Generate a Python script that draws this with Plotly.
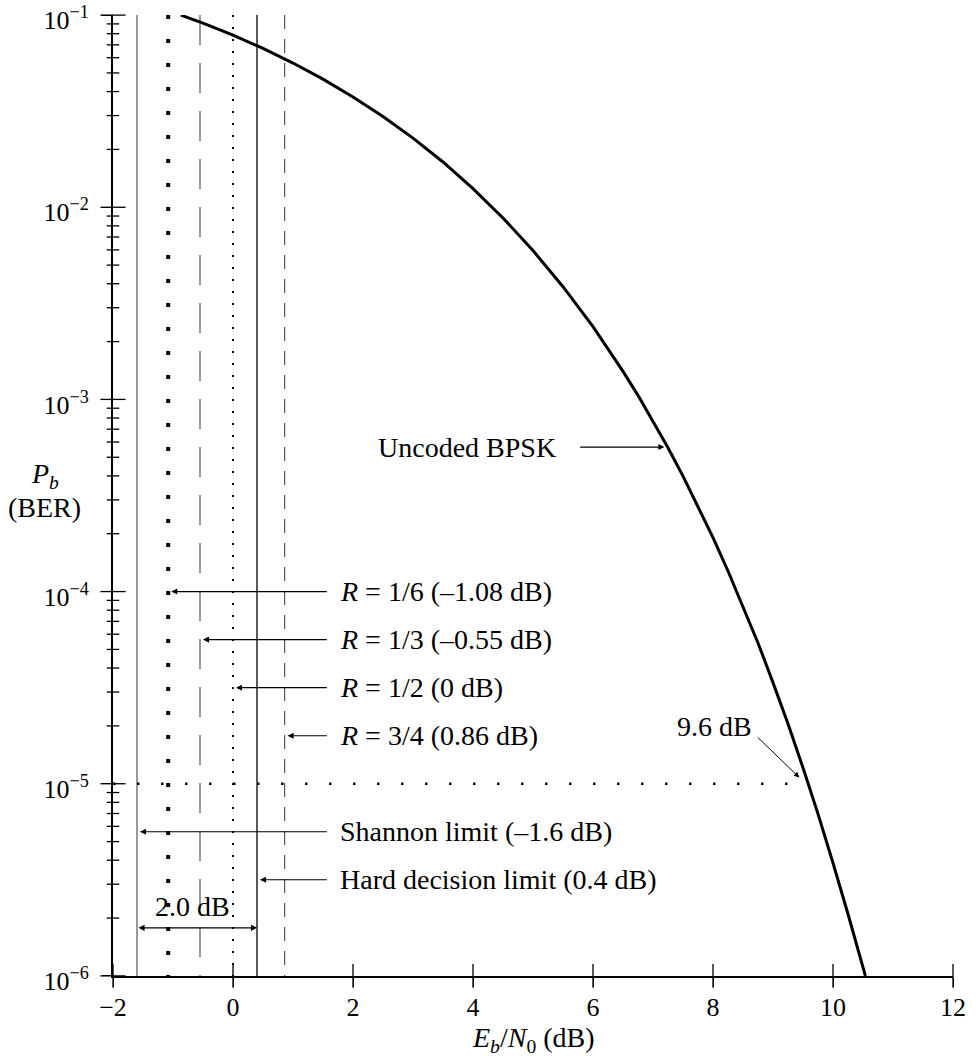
import plotly.graph_objects as go

# ---------------- data ----------------
ebn0_db = [-0.87, -0.5, 0, 0.5, 1, 1.5, 2, 2.5, 3, 3.5, 4, 4.5, 5, 5.5, 6, 6.5, 6.75, 7,
           7.25, 7.5, 7.75, 8, 8.25, 8.5, 8.75, 9, 9.25, 9.5, 9.75, 10, 10.25, 10.54]
ber_uncoded = [0.1, 0.0909, 0.0786, 0.0671, 0.0563, 0.0464, 0.0375, 0.0297, 0.0229, 0.0172,
               0.0125, 0.0088, 0.00595, 0.00386, 0.00239, 0.0014, 0.00105, 0.000773,
               0.00056, 0.000399, 0.000278, 0.000191, 0.000128, 0.000084, 0.000054,
               0.0000336, 0.0000205, 0.0000121, 0.00000697, 0.00000387, 0.0000021, 0.000001]

limit_names = ["Shannon limit (–1.6 dB)", "<i>R</i> = 1/6 (–1.08 dB)", "<i>R</i> = 1/3 (–0.55 dB)",
               "<i>R</i> = 1/2 (0 dB)", "Hard decision limit (0.4 dB)", "<i>R</i> = 3/4 (0.86 dB)"]
limit_db = [-1.6, -1.08, -0.55, 0.0, 0.4, 0.86]
limit_label_level = [-5.25, -4.0, -4.25, -4.5, -5.5, -4.75]   # log10(Pb) of each label row

target_ber = 1e-5
target_db = 9.6

x_ticks = [-2, 0, 2, 4, 6, 8, 10, 12]
x_ticktext = ["−2", "0", "2", "4", "6", "8", "10", "12"]
y_ticks = [1e-6, 1e-5, 1e-4, 1e-3, 1e-2, 1e-1]
y_ticktext = ["10<sup>−6</sup>", "10<sup>−5</sup>", "10<sup>−4</sup>",
              "10<sup>−3</sup>", "10<sup>−2</sup>", "10<sup>−1</sup>"]
y_minor = [k * 10.0 ** e for e in range(-6, -1) for k in range(2, 10)]

X_RANGE = [-2, 12]
Y_RANGE = [1e-6, 1e-1]
Y_LOG_RANGE = [-6.0005, -0.9995]

# ---------------- styles ----------------
FONT = "Liberation Serif, Times New Roman, serif"
FS = 28
TICK_FS = 26
line_styles = [
    dict(color="#444444", width=1.1, dash="solid"),     # Shannon
    dict(color="black", width=4, dash="4px,20px"),       # R=1/6
    dict(color="#444444", width=1.1, dash="30px,18px"),  # R=1/3
    dict(color="black", width=2, dash="2px,10px"),       # R=1/2
    dict(color="black", width=1.3, dash="solid"),       # hard decision
    dict(color="#555555", width=1.2, dash="14px,10px"),  # R=3/4
]

fig = go.Figure()

for v, st in zip(limit_db, line_styles):
    fig.add_trace(go.Scatter(x=[v, v], y=[Y_RANGE[1], Y_RANGE[0]], mode="lines",
                             line=st, hoverinfo="skip", showlegend=False))

fig.add_trace(go.Scatter(x=[X_RANGE[0], target_db], y=[target_ber, target_ber], mode="lines",
                         line=dict(color="black", width=2.5, dash="2.5px,21.5px"),
                         hoverinfo="skip", showlegend=False))

fig.add_trace(go.Scatter(x=ebn0_db, y=ber_uncoded, mode="lines",
                         line=dict(color="black", width=3), showlegend=False))

# crossing tick marks (inside part of the axis ticks), drawn as line markers on the axes
fig.add_trace(go.Scatter(x=[X_RANGE[0]] * len(y_minor), y=y_minor, mode="markers",
                         marker=dict(symbol="line-ew", size=9, line=dict(width=1.3, color="black")),
                         cliponaxis=False, hoverinfo="skip", showlegend=False))
fig.add_trace(go.Scatter(x=[X_RANGE[0]] * len(y_ticks), y=y_ticks, mode="markers",
                         marker=dict(symbol="line-ew", size=18, line=dict(width=1.3, color="black")),
                         cliponaxis=False, hoverinfo="skip", showlegend=False))
fig.add_trace(go.Scatter(x=x_ticks, y=[Y_RANGE[0]] * len(x_ticks), mode="markers",
                         marker=dict(symbol="line-ns", size=17, line=dict(width=1.3, color="black")),
                         cliponaxis=False, hoverinfo="skip", showlegend=False))

anns = []
label_x_tail = 1.59
label_x_text = 1.75
txtfont = dict(family=FONT, size=FS, color="black")
for name, v, lvl in zip(limit_names, limit_db, limit_label_level):
    anns.append(dict(x=v + 0.05, y=lvl, ax=label_x_tail, ay=lvl, xref="x", yref="y",
                     axref="x", ayref="y", text="", showarrow=True, arrowhead=2,
                     arrowsize=1.1, arrowwidth=1.1, arrowcolor="black", standoff=0))
    anns.append(dict(x=label_x_text, y=lvl, xref="x", yref="y", text=name, showarrow=False,
                     xanchor="left", yanchor="middle", font=txtfont))

# Uncoded BPSK
anns.append(dict(x=7.19, y=-3.248, ax=5.76, ay=-3.248, xref="x", yref="y", axref="x", ayref="y",
                 text="", showarrow=True, arrowhead=2, arrowsize=1.1, arrowwidth=1.1,
                 arrowcolor="black", standoff=0))
anns.append(dict(x=5.42, y=-3.248, xref="x", yref="y", text="Uncoded BPSK", showarrow=False,
                 xanchor="right", yanchor="middle", font=txtfont))

# 2.0 dB gap
anns.append(dict(x=limit_db[4], y=-5.75, ax=limit_db[0], ay=-5.75, xref="x", yref="y",
                 axref="x", ayref="y", text="", showarrow=True, arrowhead=2, startarrowhead=2,
                 arrowside="end+start", arrowsize=1.1, arrowwidth=1.1, arrowcolor="black",
                 standoff=0, startstandoff=0))
anns.append(dict(x=-0.67, y=-5.64, xref="x", yref="y", text="2.0 dB", showarrow=False,
                 xanchor="center", yanchor="middle", font=txtfont))

# 9.6 dB
anns.append(dict(x=9.44, y=-4.968, ax=8.72, ay=-4.751, xref="x", yref="y", axref="x", ayref="y",
                 text="", showarrow=True, arrowhead=2, arrowsize=1.1, arrowwidth=1.0,
                 arrowcolor="black", standoff=0))
anns.append(dict(x=8.03, y=-4.704, xref="x", yref="y", text="9.6 dB", showarrow=False,
                 xanchor="center", yanchor="middle", font=txtfont))

# axis titles
anns.append(dict(x=-0.081, y=0.521, xref="paper", yref="paper", text="<i>P<sub>b</sub></i>",
                 showarrow=False, xanchor="center", yanchor="middle", font=txtfont))
anns.append(dict(x=-0.081, y=0.488, xref="paper", yref="paper", text="(BER)",
                 showarrow=False, xanchor="center", yanchor="middle", font=txtfont))
anns.append(dict(x=0.5, y=-0.066, xref="paper", yref="paper",
                 text="<i>E<sub>b</sub></i>/<i>N</i><sub>0</sub> (dB)",
                 showarrow=False, xanchor="center", yanchor="middle", font=txtfont))

axis_common = dict(showgrid=False, zeroline=False, tickcolor="black", tickwidth=1.3,
                   automargin=False, ticklabeloverflow="allow")

fig.update_layout(
    width=979, height=1056,
    margin=dict(l=113, r=26, t=15, b=80, pad=0),
    paper_bgcolor="white", plot_bgcolor="white",
    font=dict(family=FONT, size=FS, color="black"),
    showlegend=False,
    annotations=anns,
    xaxis=dict(range=X_RANGE, tickvals=x_ticks, ticktext=x_ticktext, ticks="outside", ticklen=9,
               showline=True, linecolor="black", linewidth=2, ticklabelstandoff=-2,
               tickfont=dict(family=FONT, size=TICK_FS, color="black"), **axis_common),
    yaxis=dict(type="log", range=Y_LOG_RANGE, tickvals=y_ticks, ticktext=y_ticktext,
               ticks="outside", ticklen=9, showline=True, linecolor="black", linewidth=2,
               ticklabelstandoff=8, ticklabelshift=5,
               tickfont=dict(family=FONT, size=TICK_FS, color="black"),
               **axis_common),
)

fig.write_html("out.html", config={"displayModeBar": False},
               post_script="document.body.style.margin='0';")
